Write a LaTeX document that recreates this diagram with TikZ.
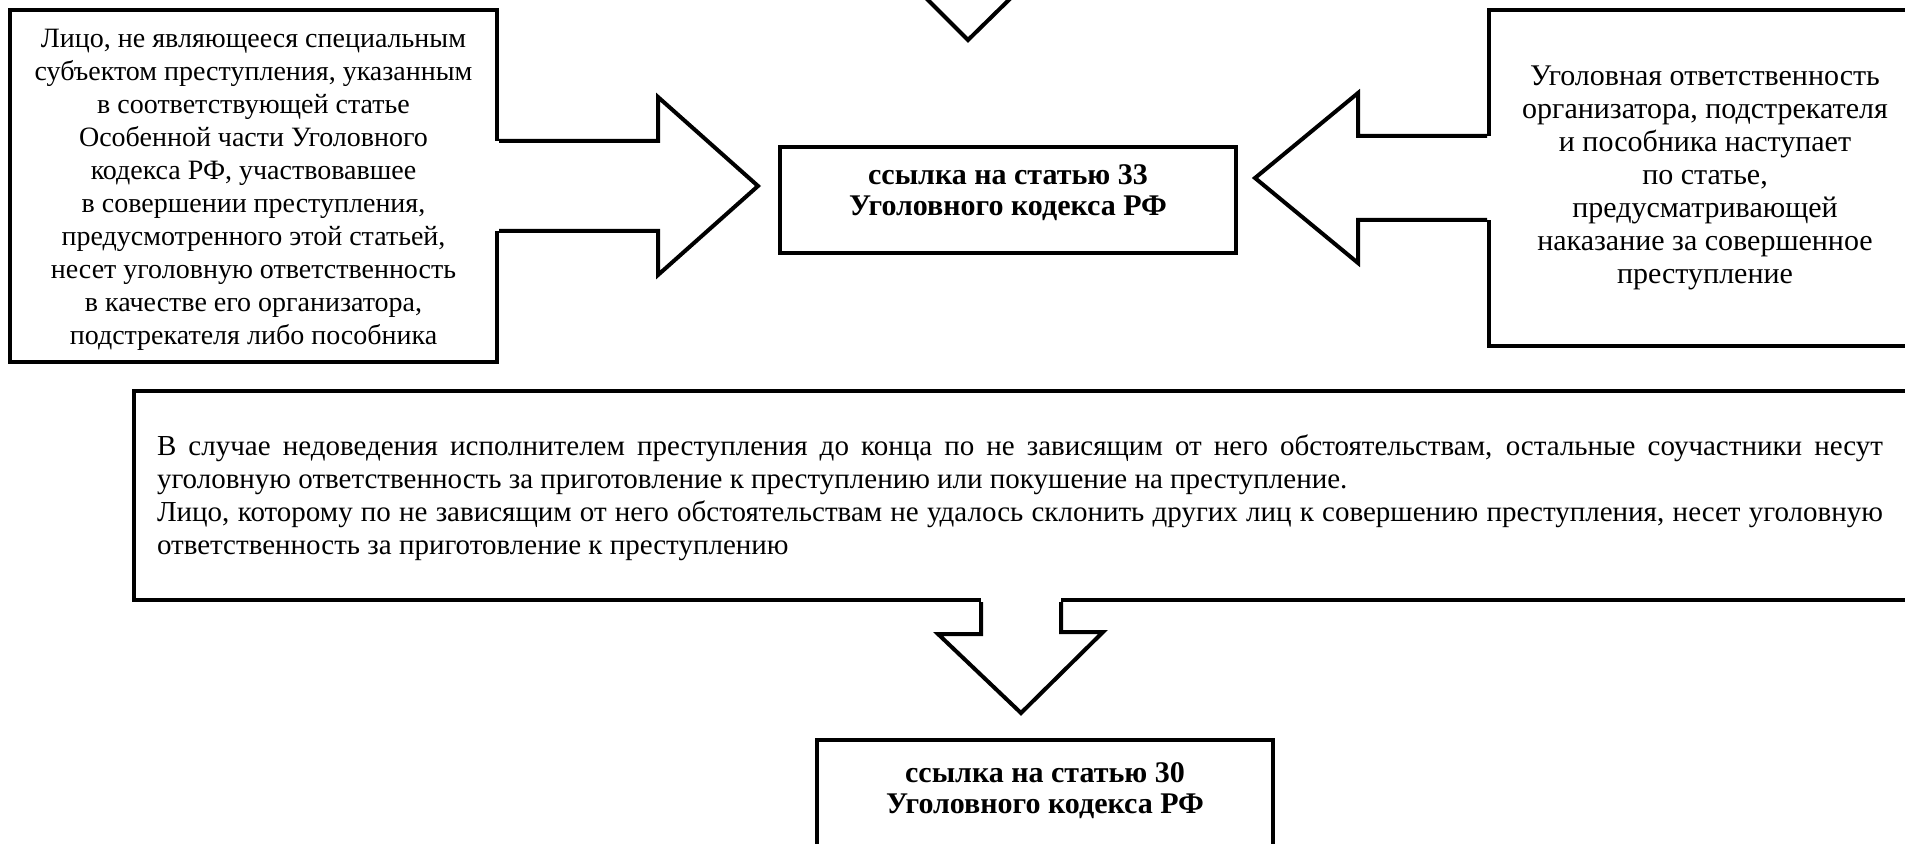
\documentclass[tikz,border=0pt]{standalone}
\usepackage{fontspec}
\setmainfont{Liberation Serif}
\usetikzlibrary{calc}
\tikzset{
  frame/.style={draw, line width=2pt, inner sep=0pt},
  txt/.style={font=\fontsize{14}{16.5}\selectfont, align=center, inner sep=0pt},
  txtb/.style={font=\fontsize{15}{16.5}\selectfont, align=center, inner sep=0pt},
  btxt/.style={font=\fontsize{15}{15.5}\selectfont\bfseries, align=center, inner sep=0pt},
  jtxt/.style={font=\fontsize{14.5}{16.5}\selectfont, align=justify, text width=863pt, inner sep=0pt},
  blk/.style={line width=2pt, line join=miter},
  gap/.style={fill=white},
}
\begin{document}
\begin{tikzpicture}[x=1pt,y=-1pt]
\useasboundingbox (0,0) rectangle (952.5,422);
\clip (0,0) rectangle (952.5,422);

% top arrow head (from above, cut off)
\coordinate (vtl) at (459,-5);
\coordinate (vtip) at (484,20);
\coordinate (vtr) at (509.5,-5);
\draw[blk] (vtl) -- (vtip) -- (vtr);

% left box
\node[frame, minimum width=243.5pt, minimum height=176pt] (L) at (126.75,93) {};
\node[txt] (Lt) at (126.75,95) {Лицо, не являющееся специальным\\
субъектом преступления, указанным\\
в соответствующей статье\\
Особенной части Уголовного\\
кодекса РФ, участвовавшее\\
в совершении преступления,\\
предусмотренного этой статьей,\\
несет уголовную ответственность\\
в качестве его организатора,\\
подстрекателя либо пособника};

% middle box
\node[frame, minimum width=228pt, minimum height=53pt] (M) at (504,100) {};
\node[btxt] (Mt) at (504,96.5) {ссылка на статью 33\\Уголовного кодекса РФ};

% right box
\node[frame, minimum width=216pt, minimum height=168pt] (R) at (852.5,89) {};
\node[txtb] (Rt) at (852.5,89) {Уголовная ответственность\\
организатора, подстрекателя\\
и пособника наступает\\
по статье,\\
предусматривающей\\
наказание за совершенное\\
преступление};

% wide box
\node[frame, minimum width=889pt, minimum height=104.5pt] (W) at (511.5,247.75) {};
\node[jtxt] (Wt) at (510,249) {В случае недоведения исполнителем преступления до конца по не зависящим от него обстоятельствам, остальные соучастники несут\linebreak
уголовную ответственность за приготовление к преступлению или покушение на преступление.\par
Лицо, которому по не зависящим от него обстоятельствам не удалось склонить других лиц к совершению преступления, несет уголовную\linebreak
ответственность за приготовление к преступлению};

% bottom box
\node[frame, minimum width=228pt, minimum height=53pt] (B) at (522.5,396.5) {};
\node[btxt] (Bt) at (522.5,395.5) {ссылка на статью 30\\Уголовного кодекса РФ};

% block arrow L -> M
\fill[gap] ($(L.east)+(-2,-22.5)$) rectangle ($(L.east)+(2,22.5)$);
\draw[blk] ($(L.east)+(0,-22.5)$) -- (329,70.5) -- (329,48.5) -- (379,93)
  -- (329,137.5) -- (329,115.5) -- ($(L.east)+(0,22.5)$);

% block arrow R -> M
\fill[gap] ($(R.west)+(-2,-21)$) rectangle ($(R.west)+(2,21)$);
\draw[blk] ($(R.west)+(0,-21)$) -- (679,68) -- (679,46.5) -- (627.5,89)
  -- (679,131.5) -- (679,110) -- ($(R.west)+(0,21)$);

% block arrow W -> B
\fill[gap] ($(W.south)+(-21,-2)$) rectangle ($(W.south)+(19,2)$);
\draw[blk] ($(W.south)+(-21,0)$) -- ++(0,16) -- ++(-21.5,0) -- (510.5,356.5)
  -- (551.5,316) -- (530.5,316) -- ($(W.south)+(19,0)$);
\end{tikzpicture}
\end{document}
